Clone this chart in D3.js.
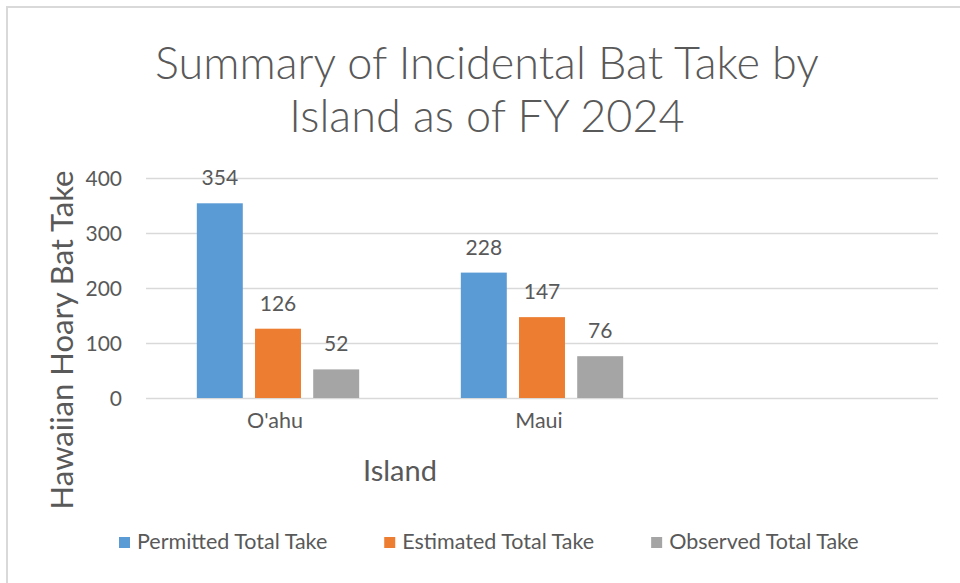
<!DOCTYPE html>
<html>
<head>
<meta charset="utf-8">
<script src="https://cdn.jsdelivr.net/npm/d3@7"></script>
<style>
  html, body { margin: 0; padding: 0; background: #fff; }
  svg text { font-family: Lato, "Open Sans", sans-serif; fill: #595959; }
</style>
</head>
<body>
<div id="chart"></div>
<script>
// Data
const islands = ["O'ahu", 'Maui', ''];
const seriesNames = ['Permitted Total Take', 'Estimated Total Take', 'Observed Total Take'];
const permitted = [354, 228];
const estimated = [126, 147];
const observed = [52, 76];
const yTicks = [0, 100, 200, 300, 400];
const titleLines = ['Summary of Incidental Bat Take by', 'Island as of FY 2024'];

const colors = ['#5B9BD5', '#ED7D31', '#A5A5A5'];
const seriesValues = [permitted, estimated, observed];

const width = 960;
const height = 583;
const plot = { left: 146, right: 938, top: 178, bottom: 398 };

const svg = d3.select('#chart').append('svg')
    .attr('width', width)
    .attr('height', height);

svg.append('rect')
    .attr('width', width)
    .attr('height', height)
    .attr('fill', '#fff');

// Light frame on top and left edge, as in the screenshot
svg.append('path')
    .attr('d', `M7,${height} L7,7 L${width},7`)
    .attr('fill', 'none')
    .attr('stroke', '#d9d9d9')
    .attr('stroke-width', 2);

// Title
svg.append('g')
    .selectAll('text')
    .data(titleLines)
    .join('text')
    .attr('x', 487)
    .attr('y', (d, i) => 79 + i * 53)
    .attr('text-anchor', 'middle')
    .style('font-size', '45px')
    .style('font-weight', 300)
    .text(d => d);

// Scales
const x0 = d3.scaleBand()
    .domain(islands)
    .range([plot.left, plot.right])
    .paddingInner(0.385)
    .paddingOuter(0.1925);

const x1 = d3.scaleBand()
    .domain(seriesNames)
    .range([0, x0.bandwidth()])
    .paddingInner(0.21);

const y = d3.scaleLinear()
    .domain([0, 400])
    .range([plot.bottom, plot.top]);

// Gridlines + y tick labels
const yAxis = svg.append('g')
    .attr('transform', `translate(${plot.left},0)`)
    .call(d3.axisLeft(y)
        .tickValues(yTicks)
        .tickSize(-(plot.right - plot.left))
        .tickPadding(24));
yAxis.select('.domain').remove();
yAxis.selectAll('.tick line')
    .attr('stroke', '#d9d9d9')
    .attr('stroke-width', 1.5);
yAxis.selectAll('.tick text')
    .style('font-size', '21px')
    .attr('fill', '#595959')
    .attr('dy', '0.36em');

// Bars
const rows = islands.filter(d => d !== '').map((island, i) => ({
    island,
    values: seriesNames.map((name, s) => ({ name, s, value: seriesValues[s][i] }))
}));

const groups = svg.append('g')
    .selectAll('g')
    .data(rows)
    .join('g')
    .attr('transform', d => `translate(${x0(d.island)},0)`);

groups.selectAll('rect')
    .data(d => d.values)
    .join('rect')
    .attr('x', d => x1(d.name))
    .attr('y', d => y(d.value))
    .attr('width', x1.bandwidth())
    .attr('height', d => y(0) - y(d.value))
    .attr('fill', d => colors[d.s]);

groups.selectAll('text')
    .data(d => d.values)
    .join('text')
    .attr('x', d => x1(d.name) + x1.bandwidth() / 2)
    .attr('y', d => y(d.value) - 18)
    .attr('text-anchor', 'middle')
    .style('font-size', '21px')
    .text(d => d.value);

// X category labels
svg.append('g')
    .selectAll('text')
    .data(islands)
    .join('text')
    .attr('x', d => x0(d) + x0.bandwidth() / 2 - 3)
    .attr('y', 428)
    .attr('text-anchor', 'middle')
    .style('font-size', '21.5px')
    .text(d => d);

// Axis titles
svg.append('text')
    .attr('x', 400)
    .attr('y', 481)
    .attr('text-anchor', 'middle')
    .style('font-size', '29px')
    .text('Island');

svg.append('text')
    .attr('transform', 'translate(73,340) rotate(-90)')
    .attr('text-anchor', 'middle')
    .style('font-size', '31px')
    .text('Hawaiian Hoary Bat Take');

// Legend
const legend = svg.append('g')
    .attr('transform', 'translate(119,549)');

let legendX = 0;
seriesNames.forEach((name, i) => {
    const item = legend.append('g')
        .attr('transform', `translate(${legendX},0)`);
    item.append('rect')
        .attr('x', 0)
        .attr('y', -12)
        .attr('width', 11)
        .attr('height', 11)
        .attr('fill', colors[i]);
    const label = item.append('text')
        .attr('x', 18)
        .attr('y', 0)
        .style('font-size', '21.5px')
        .text(name);
    legendX += 18 + label.node().getComputedTextLength() + 57;
});
</script>
</body>
</html>
